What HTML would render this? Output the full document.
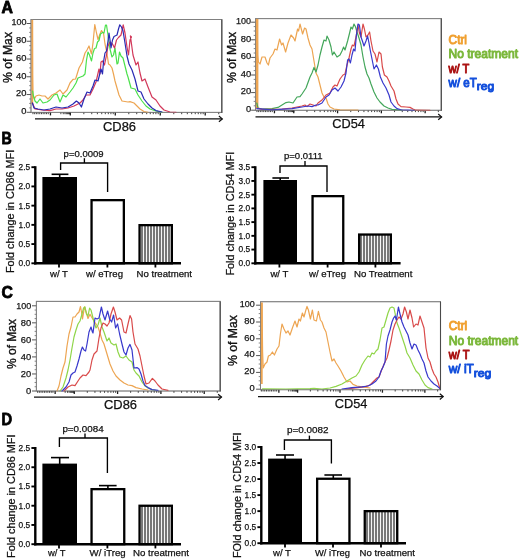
<!DOCTYPE html>
<html lang="en"><head><meta charset="utf-8"><title>Figure</title>
<style>html,body{margin:0;padding:0;background:#fff}body{width:520px;height:560px;overflow:hidden}svg{display:block;font-family:"Liberation Sans","DejaVu Sans",sans-serif}</style>
</head><body>
<svg width="520" height="560" viewBox="0 0 520 560">
<defs>
<pattern id="s1" width="3" height="8" patternUnits="userSpaceOnUse"><rect width="3" height="8" fill="#f6f6f6"/><rect x="0" width="2" height="8" fill="#848484"/><rect x="0.5" width="1" height="8" fill="#6c6c6c"/></pattern>
<pattern id="s2" width="3" height="8" patternUnits="userSpaceOnUse"><rect width="3" height="8" fill="#f6f6f6"/><rect x="0" width="2" height="8" fill="#848484"/><rect x="0.5" width="1" height="8" fill="#6c6c6c"/></pattern>
<pattern id="s3" width="3" height="8" patternUnits="userSpaceOnUse"><rect width="3" height="8" fill="#f6f6f6"/><rect x="0" width="2" height="8" fill="#848484"/><rect x="0.5" width="1" height="8" fill="#6c6c6c"/></pattern>
<pattern id="s4" width="3" height="8" patternUnits="userSpaceOnUse"><rect width="3" height="8" fill="#f6f6f6"/><rect x="0" width="2" height="8" fill="#848484"/><rect x="0.5" width="1" height="8" fill="#6c6c6c"/></pattern>
</defs>
<rect width="520" height="560" fill="#fff"/>
<text x="1.6" y="13.1" font-size="16.4" font-weight="bold" fill="#000" textLength="11.4" lengthAdjust="spacingAndGlyphs" stroke="#000" stroke-width="0.8" stroke-linejoin="round">A</text>
<text x="1.6" y="143.9" font-size="16.4" font-weight="bold" fill="#000" textLength="10.2" lengthAdjust="spacingAndGlyphs" stroke="#000" stroke-width="0.8" stroke-linejoin="round">B</text>
<text x="1.4" y="297.9" font-size="16.4" font-weight="bold" fill="#000" textLength="11.4" lengthAdjust="spacingAndGlyphs" stroke="#000" stroke-width="0.8" stroke-linejoin="round">C</text>
<text x="1.6" y="425.0" font-size="16.4" font-weight="bold" fill="#000" textLength="10.6" lengthAdjust="spacingAndGlyphs" stroke="#000" stroke-width="0.8" stroke-linejoin="round">D</text>
<rect x="31" y="19.5" width="190.8" height="92.9" fill="#fff" stroke="#808080" stroke-width="1"/>
<line x1="26.6" y1="23.50" x2="31" y2="23.50" stroke="#555" stroke-width="1"/>
<text x="26.4" y="25.4" font-size="9.2" text-anchor="end" fill="#1a1a1a" textLength="15" lengthAdjust="spacingAndGlyphs" stroke="#111" stroke-width="0.25">100</text>
<line x1="29.2" y1="27.94" x2="31" y2="27.94" stroke="#666" stroke-width="0.8"/>
<line x1="29.2" y1="32.38" x2="31" y2="32.38" stroke="#666" stroke-width="0.8"/>
<line x1="29.2" y1="36.82" x2="31" y2="36.82" stroke="#666" stroke-width="0.8"/>
<line x1="26.6" y1="41.26" x2="31" y2="41.26" stroke="#555" stroke-width="1"/>
<text x="26.4" y="43.16" font-size="9.2" text-anchor="end" fill="#1a1a1a" textLength="10.4" lengthAdjust="spacingAndGlyphs" stroke="#111" stroke-width="0.25">80</text>
<line x1="29.2" y1="45.70" x2="31" y2="45.70" stroke="#666" stroke-width="0.8"/>
<line x1="29.2" y1="50.14" x2="31" y2="50.14" stroke="#666" stroke-width="0.8"/>
<line x1="29.2" y1="54.58" x2="31" y2="54.58" stroke="#666" stroke-width="0.8"/>
<line x1="26.6" y1="59.02" x2="31" y2="59.02" stroke="#555" stroke-width="1"/>
<text x="26.4" y="60.92" font-size="9.2" text-anchor="end" fill="#1a1a1a" textLength="10.4" lengthAdjust="spacingAndGlyphs" stroke="#111" stroke-width="0.25">60</text>
<line x1="29.2" y1="63.46" x2="31" y2="63.46" stroke="#666" stroke-width="0.8"/>
<line x1="29.2" y1="67.90" x2="31" y2="67.90" stroke="#666" stroke-width="0.8"/>
<line x1="29.2" y1="72.34" x2="31" y2="72.34" stroke="#666" stroke-width="0.8"/>
<line x1="26.6" y1="76.78" x2="31" y2="76.78" stroke="#555" stroke-width="1"/>
<text x="26.4" y="78.68" font-size="9.2" text-anchor="end" fill="#1a1a1a" textLength="10.4" lengthAdjust="spacingAndGlyphs" stroke="#111" stroke-width="0.25">40</text>
<line x1="29.2" y1="81.22" x2="31" y2="81.22" stroke="#666" stroke-width="0.8"/>
<line x1="29.2" y1="85.66" x2="31" y2="85.66" stroke="#666" stroke-width="0.8"/>
<line x1="29.2" y1="90.10" x2="31" y2="90.10" stroke="#666" stroke-width="0.8"/>
<line x1="26.6" y1="94.54" x2="31" y2="94.54" stroke="#555" stroke-width="1"/>
<text x="26.4" y="96.44" font-size="9.2" text-anchor="end" fill="#1a1a1a" textLength="10.4" lengthAdjust="spacingAndGlyphs" stroke="#111" stroke-width="0.25">20</text>
<line x1="29.2" y1="98.98" x2="31" y2="98.98" stroke="#666" stroke-width="0.8"/>
<line x1="29.2" y1="103.42" x2="31" y2="103.42" stroke="#666" stroke-width="0.8"/>
<line x1="29.2" y1="107.86" x2="31" y2="107.86" stroke="#666" stroke-width="0.8"/>
<line x1="26.6" y1="112.30" x2="31" y2="112.30" stroke="#555" stroke-width="1"/>
<text x="26.4" y="114.2" font-size="9.2" text-anchor="end" fill="#1a1a1a" textLength="5.2" lengthAdjust="spacingAndGlyphs" stroke="#111" stroke-width="0.25">0</text>
<line x1="50.46" y1="112.4" x2="50.46" y2="115.40" stroke="#1c1c1c" stroke-width="1.3"/>
<line x1="60.87" y1="112.4" x2="60.87" y2="114.20" stroke="#1c1c1c" stroke-width="0.85"/>
<line x1="63.25" y1="112.4" x2="63.25" y2="114.20" stroke="#1c1c1c" stroke-width="0.85"/>
<line x1="64.94" y1="112.4" x2="64.94" y2="114.20" stroke="#1c1c1c" stroke-width="0.85"/>
<line x1="66.24" y1="112.4" x2="66.24" y2="114.20" stroke="#1c1c1c" stroke-width="0.85"/>
<line x1="67.31" y1="112.4" x2="67.31" y2="114.20" stroke="#1c1c1c" stroke-width="0.85"/>
<line x1="68.21" y1="112.4" x2="68.21" y2="114.20" stroke="#1c1c1c" stroke-width="0.85"/>
<line x1="69.00" y1="112.4" x2="69.00" y2="114.20" stroke="#1c1c1c" stroke-width="0.85"/>
<line x1="69.69" y1="112.4" x2="69.69" y2="114.20" stroke="#1c1c1c" stroke-width="0.85"/>
<line x1="70.30" y1="112.4" x2="70.30" y2="114.20" stroke="#1c1c1c" stroke-width="0.85"/>
<line x1="48.26" y1="112.4" x2="48.26" y2="114.20" stroke="#1c1c1c" stroke-width="0.85"/>
<line x1="46.56" y1="112.4" x2="46.56" y2="114.20" stroke="#1c1c1c" stroke-width="0.85"/>
<line x1="44.86" y1="112.4" x2="44.86" y2="114.20" stroke="#1c1c1c" stroke-width="0.85"/>
<line x1="43.16" y1="112.4" x2="43.16" y2="114.20" stroke="#1c1c1c" stroke-width="0.85"/>
<line x1="41.46" y1="112.4" x2="41.46" y2="114.20" stroke="#1c1c1c" stroke-width="0.85"/>
<line x1="39.76" y1="112.4" x2="39.76" y2="114.20" stroke="#1c1c1c" stroke-width="0.85"/>
<line x1="38.06" y1="112.4" x2="38.06" y2="114.20" stroke="#1c1c1c" stroke-width="0.85"/>
<line x1="36.36" y1="112.4" x2="36.36" y2="114.20" stroke="#1c1c1c" stroke-width="0.85"/>
<line x1="34.66" y1="112.4" x2="34.66" y2="114.20" stroke="#1c1c1c" stroke-width="0.85"/>
<line x1="32.96" y1="112.4" x2="32.96" y2="114.20" stroke="#1c1c1c" stroke-width="0.85"/>
<line x1="70.30" y1="112.4" x2="70.30" y2="115.40" stroke="#1c1c1c" stroke-width="1.3"/>
<line x1="83.84" y1="112.4" x2="83.84" y2="114.20" stroke="#1c1c1c" stroke-width="0.85"/>
<line x1="91.76" y1="112.4" x2="91.76" y2="114.20" stroke="#1c1c1c" stroke-width="0.85"/>
<line x1="97.38" y1="112.4" x2="97.38" y2="114.20" stroke="#1c1c1c" stroke-width="0.85"/>
<line x1="101.74" y1="112.4" x2="101.74" y2="114.20" stroke="#1c1c1c" stroke-width="0.85"/>
<line x1="105.30" y1="112.4" x2="105.30" y2="114.20" stroke="#1c1c1c" stroke-width="0.85"/>
<line x1="108.31" y1="112.4" x2="108.31" y2="114.20" stroke="#1c1c1c" stroke-width="0.85"/>
<line x1="110.92" y1="112.4" x2="110.92" y2="114.20" stroke="#1c1c1c" stroke-width="0.85"/>
<line x1="113.22" y1="112.4" x2="113.22" y2="114.20" stroke="#1c1c1c" stroke-width="0.85"/>
<line x1="115.28" y1="112.4" x2="115.28" y2="115.40" stroke="#1c1c1c" stroke-width="1.3"/>
<line x1="128.81" y1="112.4" x2="128.81" y2="114.20" stroke="#1c1c1c" stroke-width="0.85"/>
<line x1="136.73" y1="112.4" x2="136.73" y2="114.20" stroke="#1c1c1c" stroke-width="0.85"/>
<line x1="142.35" y1="112.4" x2="142.35" y2="114.20" stroke="#1c1c1c" stroke-width="0.85"/>
<line x1="146.71" y1="112.4" x2="146.71" y2="114.20" stroke="#1c1c1c" stroke-width="0.85"/>
<line x1="150.27" y1="112.4" x2="150.27" y2="114.20" stroke="#1c1c1c" stroke-width="0.85"/>
<line x1="153.28" y1="112.4" x2="153.28" y2="114.20" stroke="#1c1c1c" stroke-width="0.85"/>
<line x1="155.89" y1="112.4" x2="155.89" y2="114.20" stroke="#1c1c1c" stroke-width="0.85"/>
<line x1="158.19" y1="112.4" x2="158.19" y2="114.20" stroke="#1c1c1c" stroke-width="0.85"/>
<line x1="160.25" y1="112.4" x2="160.25" y2="115.40" stroke="#1c1c1c" stroke-width="1.3"/>
<line x1="173.79" y1="112.4" x2="173.79" y2="114.20" stroke="#1c1c1c" stroke-width="0.85"/>
<line x1="181.70" y1="112.4" x2="181.70" y2="114.20" stroke="#1c1c1c" stroke-width="0.85"/>
<line x1="187.32" y1="112.4" x2="187.32" y2="114.20" stroke="#1c1c1c" stroke-width="0.85"/>
<line x1="191.68" y1="112.4" x2="191.68" y2="114.20" stroke="#1c1c1c" stroke-width="0.85"/>
<line x1="195.24" y1="112.4" x2="195.24" y2="114.20" stroke="#1c1c1c" stroke-width="0.85"/>
<line x1="198.25" y1="112.4" x2="198.25" y2="114.20" stroke="#1c1c1c" stroke-width="0.85"/>
<line x1="200.86" y1="112.4" x2="200.86" y2="114.20" stroke="#1c1c1c" stroke-width="0.85"/>
<line x1="203.16" y1="112.4" x2="203.16" y2="114.20" stroke="#1c1c1c" stroke-width="0.85"/>
<line x1="205.22" y1="112.4" x2="205.22" y2="115.40" stroke="#1c1c1c" stroke-width="1.3"/>
<line x1="218.76" y1="112.4" x2="218.76" y2="114.20" stroke="#1c1c1c" stroke-width="0.85"/>
<line x1="32.25" y1="20" x2="32.25" y2="104" stroke="#eda552" stroke-width="1.9"/>
<polyline points="32.4,20 32.6,75 33,95 34.4,99 36,96 39,95 42,96 45,96 48,99 52,95 56,93 60,90 63,94 67,90 70,83 73,79.4 75.6,79 79,68 82.4,62 85,53 87,50 89,46 91.5,54 93,43 94.8,24.5 96.5,33 98,39.5 100,34 101.5,30.5 103.5,33 105,44 106.5,51 107.5,57 108.5,64 110,65 112,68 113.5,74 115,81 119,95 122,101 128,102 130,101.6 134,103 137,106 140,109 144,111.6 148,112.4" fill="none" stroke="#eda552" stroke-width="1.2" stroke-linejoin="round" stroke-linecap="round" opacity="1"/>
<polyline points="32.6,91 33.2,95 35,101 37,103 40,99 43,103 47,102 50,100 54,95 57,94 60,102 63,95 66,97 70,92 73,88 76,83 78,78 83,76 85,74 86.5,60 88,52 89.5,55 91.5,61 93,53 94.5,48.5 96,48 97.5,42 99,40.5 100.5,34 102.5,32.5 104,33 105.5,25 106.5,25 108,35 109,43 110,49 112,57 113.5,55 115,48 117,64 118,63 119.5,52 121,56 123,58 125,66 127,74 128,77 131,88 135,89 138,95 142,101 146,106 150,109 156,111 162,112.4" fill="none" stroke="#4be04b" stroke-width="1.2" stroke-linejoin="round" stroke-linecap="round" opacity="1"/>
<polyline points="32.4,103 35,109 42,110 50,110.6 56,109 62,109 68,108 74,106 80,103 83,100 86,95 90,95 93,89 96,82 99,69 100,74 101,62 102.5,61 104.5,65 106.5,55 108,46 110,42 112.5,44 114.5,48 116.5,40 118.5,37.5 121,35 123.2,24.8 125,33 127,47 128.5,55 130,40 131.5,37 130.4,36 133,55 136,65 138,62 140,73 142,81 145,79 148,87 152,97 156,100 160,106 164,110 170,112 176,112.4" fill="none" stroke="#d2385a" stroke-width="1.2" stroke-linejoin="round" stroke-linecap="round" opacity="1"/>
<polyline points="32.4,103 34,108 38,109 44,110 50,109 56,107 62,108 68,107 73,104 76.4,101 79,103 81.4,107 84,99 87,92 90,93 93,86 95,80 98,81 101,69 102.5,74 103.5,62 105,53 106.5,51 108,41 109,33 110,40 111,48 112.5,40 114,36.5 117,35 118.5,29 119.8,24.8 121.5,27 123,31 125,43 127,56 129,64 132,70 135,79 138,91 141,92 144,99 148,104 152,108 156,110.6 162,112" fill="none" stroke="#2a2ab4" stroke-width="1.2" stroke-linejoin="round" stroke-linecap="round" opacity="1"/>
<rect x="31" y="19.5" width="190.8" height="92.9" fill="none" stroke="#808080" stroke-width="1" opacity="0.6"/>
<line x1="221.8" y1="19.5" x2="221.8" y2="112.9" stroke="#4a4a4a" stroke-width="1.1"/>
<text x="12.0" y="57.5" font-size="12" text-anchor="middle" fill="#111" textLength="51" lengthAdjust="spacingAndGlyphs" transform="rotate(-90 12.0 57.5)" stroke="#111" stroke-width="0.35">% of Max</text>
<line x1="35" y1="118.9" x2="222.3" y2="118.9" stroke="#111" stroke-width="1.3"/>
<polyline points="218.9,116.0 222.3,118.9 218.9,121.8" fill="none" stroke="#111" stroke-width="1.2"/>
<text x="103" y="131.2" font-size="12.2" fill="#111" textLength="33" lengthAdjust="spacingAndGlyphs" stroke="#111" stroke-width="0.25">CD86</text>
<rect x="255.5" y="18.6" width="185.8" height="91.7" fill="#fff" stroke="#808080" stroke-width="1"/>
<line x1="251.1" y1="22.20" x2="255.5" y2="22.20" stroke="#555" stroke-width="1"/>
<text x="251.1" y="24.0" font-size="9.2" text-anchor="end" fill="#1a1a1a" textLength="15" lengthAdjust="spacingAndGlyphs" stroke="#111" stroke-width="0.25">100</text>
<line x1="253.7" y1="26.60" x2="255.5" y2="26.60" stroke="#666" stroke-width="0.8"/>
<line x1="253.7" y1="31.00" x2="255.5" y2="31.00" stroke="#666" stroke-width="0.8"/>
<line x1="253.7" y1="35.40" x2="255.5" y2="35.40" stroke="#666" stroke-width="0.8"/>
<line x1="251.1" y1="39.80" x2="255.5" y2="39.80" stroke="#555" stroke-width="1"/>
<text x="251.1" y="41.6" font-size="9.2" text-anchor="end" fill="#1a1a1a" textLength="10.4" lengthAdjust="spacingAndGlyphs" stroke="#111" stroke-width="0.25">80</text>
<line x1="253.7" y1="44.20" x2="255.5" y2="44.20" stroke="#666" stroke-width="0.8"/>
<line x1="253.7" y1="48.60" x2="255.5" y2="48.60" stroke="#666" stroke-width="0.8"/>
<line x1="253.7" y1="53.00" x2="255.5" y2="53.00" stroke="#666" stroke-width="0.8"/>
<line x1="251.1" y1="57.40" x2="255.5" y2="57.40" stroke="#555" stroke-width="1"/>
<text x="251.1" y="59.2" font-size="9.2" text-anchor="end" fill="#1a1a1a" textLength="10.4" lengthAdjust="spacingAndGlyphs" stroke="#111" stroke-width="0.25">60</text>
<line x1="253.7" y1="61.80" x2="255.5" y2="61.80" stroke="#666" stroke-width="0.8"/>
<line x1="253.7" y1="66.20" x2="255.5" y2="66.20" stroke="#666" stroke-width="0.8"/>
<line x1="253.7" y1="70.60" x2="255.5" y2="70.60" stroke="#666" stroke-width="0.8"/>
<line x1="251.1" y1="75.00" x2="255.5" y2="75.00" stroke="#555" stroke-width="1"/>
<text x="251.1" y="76.8" font-size="9.2" text-anchor="end" fill="#1a1a1a" textLength="10.4" lengthAdjust="spacingAndGlyphs" stroke="#111" stroke-width="0.25">40</text>
<line x1="253.7" y1="79.40" x2="255.5" y2="79.40" stroke="#666" stroke-width="0.8"/>
<line x1="253.7" y1="83.80" x2="255.5" y2="83.80" stroke="#666" stroke-width="0.8"/>
<line x1="253.7" y1="88.20" x2="255.5" y2="88.20" stroke="#666" stroke-width="0.8"/>
<line x1="251.1" y1="92.60" x2="255.5" y2="92.60" stroke="#555" stroke-width="1"/>
<text x="251.1" y="94.4" font-size="9.2" text-anchor="end" fill="#1a1a1a" textLength="10.4" lengthAdjust="spacingAndGlyphs" stroke="#111" stroke-width="0.25">20</text>
<line x1="253.7" y1="97.00" x2="255.5" y2="97.00" stroke="#666" stroke-width="0.8"/>
<line x1="253.7" y1="101.40" x2="255.5" y2="101.40" stroke="#666" stroke-width="0.8"/>
<line x1="253.7" y1="105.80" x2="255.5" y2="105.80" stroke="#666" stroke-width="0.8"/>
<line x1="251.1" y1="110.20" x2="255.5" y2="110.20" stroke="#555" stroke-width="1"/>
<text x="251.1" y="112.0" font-size="9.2" text-anchor="end" fill="#1a1a1a" textLength="5.2" lengthAdjust="spacingAndGlyphs" stroke="#111" stroke-width="0.25">0</text>
<line x1="274.45" y1="110.3" x2="274.45" y2="113.30" stroke="#1c1c1c" stroke-width="1.3"/>
<line x1="284.59" y1="110.3" x2="284.59" y2="112.10" stroke="#1c1c1c" stroke-width="0.85"/>
<line x1="286.90" y1="110.3" x2="286.90" y2="112.10" stroke="#1c1c1c" stroke-width="0.85"/>
<line x1="288.55" y1="110.3" x2="288.55" y2="112.10" stroke="#1c1c1c" stroke-width="0.85"/>
<line x1="289.82" y1="110.3" x2="289.82" y2="112.10" stroke="#1c1c1c" stroke-width="0.85"/>
<line x1="290.86" y1="110.3" x2="290.86" y2="112.10" stroke="#1c1c1c" stroke-width="0.85"/>
<line x1="291.74" y1="110.3" x2="291.74" y2="112.10" stroke="#1c1c1c" stroke-width="0.85"/>
<line x1="292.50" y1="110.3" x2="292.50" y2="112.10" stroke="#1c1c1c" stroke-width="0.85"/>
<line x1="293.17" y1="110.3" x2="293.17" y2="112.10" stroke="#1c1c1c" stroke-width="0.85"/>
<line x1="293.77" y1="110.3" x2="293.77" y2="112.10" stroke="#1c1c1c" stroke-width="0.85"/>
<line x1="272.25" y1="110.3" x2="272.25" y2="112.10" stroke="#1c1c1c" stroke-width="0.85"/>
<line x1="270.55" y1="110.3" x2="270.55" y2="112.10" stroke="#1c1c1c" stroke-width="0.85"/>
<line x1="268.85" y1="110.3" x2="268.85" y2="112.10" stroke="#1c1c1c" stroke-width="0.85"/>
<line x1="267.15" y1="110.3" x2="267.15" y2="112.10" stroke="#1c1c1c" stroke-width="0.85"/>
<line x1="265.45" y1="110.3" x2="265.45" y2="112.10" stroke="#1c1c1c" stroke-width="0.85"/>
<line x1="263.75" y1="110.3" x2="263.75" y2="112.10" stroke="#1c1c1c" stroke-width="0.85"/>
<line x1="262.05" y1="110.3" x2="262.05" y2="112.10" stroke="#1c1c1c" stroke-width="0.85"/>
<line x1="260.35" y1="110.3" x2="260.35" y2="112.10" stroke="#1c1c1c" stroke-width="0.85"/>
<line x1="258.65" y1="110.3" x2="258.65" y2="112.10" stroke="#1c1c1c" stroke-width="0.85"/>
<line x1="256.95" y1="110.3" x2="256.95" y2="112.10" stroke="#1c1c1c" stroke-width="0.85"/>
<line x1="293.77" y1="110.3" x2="293.77" y2="113.30" stroke="#1c1c1c" stroke-width="1.3"/>
<line x1="306.96" y1="110.3" x2="306.96" y2="112.10" stroke="#1c1c1c" stroke-width="0.85"/>
<line x1="314.67" y1="110.3" x2="314.67" y2="112.10" stroke="#1c1c1c" stroke-width="0.85"/>
<line x1="320.14" y1="110.3" x2="320.14" y2="112.10" stroke="#1c1c1c" stroke-width="0.85"/>
<line x1="324.38" y1="110.3" x2="324.38" y2="112.10" stroke="#1c1c1c" stroke-width="0.85"/>
<line x1="327.85" y1="110.3" x2="327.85" y2="112.10" stroke="#1c1c1c" stroke-width="0.85"/>
<line x1="330.78" y1="110.3" x2="330.78" y2="112.10" stroke="#1c1c1c" stroke-width="0.85"/>
<line x1="333.32" y1="110.3" x2="333.32" y2="112.10" stroke="#1c1c1c" stroke-width="0.85"/>
<line x1="335.56" y1="110.3" x2="335.56" y2="112.10" stroke="#1c1c1c" stroke-width="0.85"/>
<line x1="337.57" y1="110.3" x2="337.57" y2="113.30" stroke="#1c1c1c" stroke-width="1.3"/>
<line x1="350.75" y1="110.3" x2="350.75" y2="112.10" stroke="#1c1c1c" stroke-width="0.85"/>
<line x1="358.46" y1="110.3" x2="358.46" y2="112.10" stroke="#1c1c1c" stroke-width="0.85"/>
<line x1="363.93" y1="110.3" x2="363.93" y2="112.10" stroke="#1c1c1c" stroke-width="0.85"/>
<line x1="368.18" y1="110.3" x2="368.18" y2="112.10" stroke="#1c1c1c" stroke-width="0.85"/>
<line x1="371.65" y1="110.3" x2="371.65" y2="112.10" stroke="#1c1c1c" stroke-width="0.85"/>
<line x1="374.58" y1="110.3" x2="374.58" y2="112.10" stroke="#1c1c1c" stroke-width="0.85"/>
<line x1="377.12" y1="110.3" x2="377.12" y2="112.10" stroke="#1c1c1c" stroke-width="0.85"/>
<line x1="379.36" y1="110.3" x2="379.36" y2="112.10" stroke="#1c1c1c" stroke-width="0.85"/>
<line x1="381.36" y1="110.3" x2="381.36" y2="113.30" stroke="#1c1c1c" stroke-width="1.3"/>
<line x1="394.54" y1="110.3" x2="394.54" y2="112.10" stroke="#1c1c1c" stroke-width="0.85"/>
<line x1="402.26" y1="110.3" x2="402.26" y2="112.10" stroke="#1c1c1c" stroke-width="0.85"/>
<line x1="407.73" y1="110.3" x2="407.73" y2="112.10" stroke="#1c1c1c" stroke-width="0.85"/>
<line x1="411.97" y1="110.3" x2="411.97" y2="112.10" stroke="#1c1c1c" stroke-width="0.85"/>
<line x1="415.44" y1="110.3" x2="415.44" y2="112.10" stroke="#1c1c1c" stroke-width="0.85"/>
<line x1="418.37" y1="110.3" x2="418.37" y2="112.10" stroke="#1c1c1c" stroke-width="0.85"/>
<line x1="420.91" y1="110.3" x2="420.91" y2="112.10" stroke="#1c1c1c" stroke-width="0.85"/>
<line x1="423.15" y1="110.3" x2="423.15" y2="112.10" stroke="#1c1c1c" stroke-width="0.85"/>
<line x1="425.15" y1="110.3" x2="425.15" y2="113.30" stroke="#1c1c1c" stroke-width="1.3"/>
<line x1="438.34" y1="110.3" x2="438.34" y2="112.10" stroke="#1c1c1c" stroke-width="0.85"/>
<line x1="257.1" y1="19" x2="257.1" y2="108" stroke="#eda552" stroke-width="2.6"/>
<polyline points="257.2,19 257.6,55 258.4,62 260,64 262,57 265,57 267,63 268.4,65 270,58 273,54 275,49 277,50 279.6,39 281.6,45 283,43 285.6,52 288,43 291,35 293.6,38 295,41 297.6,29 298.6,31 300,24 302.6,34 304.6,28 306,29 308,38 310,45 312,49 314,61 316,73 318,77 320,85 322,93 324,97 326,98 328,104 330,107 334,109 340,109.8 358,110.2" fill="none" stroke="#eda552" stroke-width="1.2" stroke-linejoin="round" stroke-linecap="round" opacity="1"/>
<polyline points="256.8,103 258,108 262,109 272,108.6 278,107.4 282,105 286,102.6 289,102 293,103 297,97 300,96.6 302,94 306,88 310,77 312,73 314,67.4 316,72 318,65 320,55 322,47 324,40 326,41 327,36 329,40 331,47 332.4,55 334,52 337,57 340,55 342,51 343.6,47 345,50 347.6,41 349.6,33 351,27 352.4,29 354,24 355.6,27 357,32 359,38 361,45 363,57 365,67 367,74 369,78 371,84 374,92 377,98 380,102 384,106 388,108 392,109.4 402,110.2" fill="none" stroke="#43a65a" stroke-width="1.2" stroke-linejoin="round" stroke-linecap="round" opacity="1"/>
<polyline points="256.8,108 262,109.4 272,109.4 282,109 292,108 302,106 305,105 307,106.6 310,104 313,105 316,106 318,103 322,100 326,95 330,93 333,87 335,85 337,86 340,79 343,75 345,74 347,65 349,58 351,49 352.4,45 354,46 356,37 358,25 359.4,33 361,37 363,24 364.4,29 366,37 368,35 369.6,32 371,41 373,51 375,54 377,62 379,52 381,54 382.4,67 384.4,75 387,77 389,81 391,86 394,91 396,99 398,104 401,106.6 406,107 410,107.4 413,109 416,110.2 430,110.4" fill="none" stroke="#d94a4a" stroke-width="1.2" stroke-linejoin="round" stroke-linecap="round" opacity="1"/>
<polyline points="256.8,108.6 272,109.8 292,108.6 302,107 308,106 312,106.6 316,105 318,105 322,103 326,97 329,95 332,90 335,88 338,91 341,87 344,81 346,73 347.6,60 349,59 350.4,63 352,55 353.6,49 355,51 356.4,35 358,24 359.4,25 361,37 362.4,41 364,46 366,41 367.6,36 369,43 370.4,51 372,59 374,69 376.4,65 378.4,69 380.4,77 383,83 386,88 389,95 391,102 394,106 397,108.6 401,109.8 414,110.4" fill="none" stroke="#3838cc" stroke-width="1.2" stroke-linejoin="round" stroke-linecap="round" opacity="1"/>
<rect x="255.5" y="18.6" width="185.8" height="91.7" fill="none" stroke="#808080" stroke-width="1" opacity="0.6"/>
<line x1="441.3" y1="18.6" x2="441.3" y2="110.8" stroke="#4a4a4a" stroke-width="1.1"/>
<text x="236" y="57.5" font-size="12" text-anchor="middle" fill="#111" textLength="51" lengthAdjust="spacingAndGlyphs" transform="rotate(-90 236 57.5)" stroke="#111" stroke-width="0.35">% of Max</text>
<line x1="255.5" y1="116.9" x2="441.6" y2="116.9" stroke="#111" stroke-width="1.3"/>
<polyline points="438.2,114.0 441.6,116.9 438.2,119.8" fill="none" stroke="#111" stroke-width="1.2"/>
<text x="332.3" y="127.9" font-size="12.2" fill="#111" textLength="32.6" lengthAdjust="spacingAndGlyphs" stroke="#111" stroke-width="0.25">CD54</text>
<text x="448.6" y="43.7" font-size="12.8" fill="#f0a030" stroke="#f0a030" stroke-width="1.0" stroke-linejoin="round" textLength="18.4" lengthAdjust="spacingAndGlyphs">Ctrl</text>
<text x="448.6" y="58.4" font-size="12.8" fill="#7cb83c" stroke="#7cb83c" stroke-width="1.0" stroke-linejoin="round" textLength="69.4" lengthAdjust="spacingAndGlyphs">No treatment</text>
<text x="448.6" y="73" font-size="12.8" fill="#ab1414" stroke="#ab1414" stroke-width="1.0" stroke-linejoin="round" textLength="20.8" lengthAdjust="spacingAndGlyphs">w/ T</text>
<text x="448.6" y="87.3" font-size="12.8" fill="#1450dc" stroke="#1450dc" stroke-width="1.0" stroke-linejoin="round"><tspan textLength="28.2" lengthAdjust="spacingAndGlyphs">w/ eT</tspan><tspan dy="3.1" font-size="11.4" textLength="17.4" lengthAdjust="spacingAndGlyphs">reg</tspan></text>
<line x1="59.7" y1="174.3" x2="59.7" y2="178" stroke="#000" stroke-width="1.6"/>
<line x1="51.6" y1="174.3" x2="68.4" y2="174.3" stroke="#000" stroke-width="1.6"/>
<rect x="42.4" y="177" width="34.6" height="86.30000000000001" fill="#000"/>
<rect x="91.55" y="200.15" width="32.3" height="63.15" fill="#fff" stroke="#000" stroke-width="2.3"/>
<rect x="139.55" y="225.15" width="32.3" height="38.15" fill="url(#s1)" stroke="#000" stroke-width="2.3"/>
<line x1="35.3" y1="166.2" x2="35.3" y2="264.5" stroke="#000" stroke-width="2.4"/>
<line x1="34.1" y1="263.3" x2="181" y2="263.3" stroke="#000" stroke-width="2.4"/>
<line x1="31.4" y1="167.20" x2="35.3" y2="167.20" stroke="#000" stroke-width="1.9"/>
<text x="30.1" y="170.1" font-size="9.2" text-anchor="end" fill="#111" textLength="11.6" lengthAdjust="spacingAndGlyphs" stroke="#111" stroke-width="0.25">2.5</text>
<line x1="31.4" y1="186.42" x2="35.3" y2="186.42" stroke="#000" stroke-width="1.9"/>
<text x="30.1" y="189.32" font-size="9.2" text-anchor="end" fill="#111" textLength="11.6" lengthAdjust="spacingAndGlyphs" stroke="#111" stroke-width="0.25">2.0</text>
<line x1="31.4" y1="205.64" x2="35.3" y2="205.64" stroke="#000" stroke-width="1.9"/>
<text x="30.1" y="208.54" font-size="9.2" text-anchor="end" fill="#111" textLength="11.6" lengthAdjust="spacingAndGlyphs" stroke="#111" stroke-width="0.25">1.5</text>
<line x1="31.4" y1="224.86" x2="35.3" y2="224.86" stroke="#000" stroke-width="1.9"/>
<text x="30.1" y="227.76" font-size="9.2" text-anchor="end" fill="#111" textLength="11.6" lengthAdjust="spacingAndGlyphs" stroke="#111" stroke-width="0.25">1.0</text>
<line x1="31.4" y1="244.08" x2="35.3" y2="244.08" stroke="#000" stroke-width="1.9"/>
<text x="30.1" y="246.98" font-size="9.2" text-anchor="end" fill="#111" textLength="11.6" lengthAdjust="spacingAndGlyphs" stroke="#111" stroke-width="0.25">0.5</text>
<line x1="31.4" y1="263.30" x2="35.3" y2="263.30" stroke="#000" stroke-width="1.9"/>
<text x="30.1" y="266.2" font-size="9.2" text-anchor="end" fill="#111" textLength="11.6" lengthAdjust="spacingAndGlyphs" stroke="#111" stroke-width="0.25">0.0</text>
<line x1="59" y1="263.3" x2="59" y2="267.5" stroke="#000" stroke-width="1.8"/>
<text x="50" y="277.4" font-size="9.6" fill="#111" textLength="18" lengthAdjust="spacingAndGlyphs" stroke="#111" stroke-width="0.25">w/ T</text>
<line x1="107.4" y1="263.3" x2="107.4" y2="267.5" stroke="#000" stroke-width="1.8"/>
<text x="86" y="277.4" font-size="9.6" fill="#111" textLength="37" lengthAdjust="spacingAndGlyphs" stroke="#111" stroke-width="0.25">w/ eTreg</text>
<line x1="155.4" y1="263.3" x2="155.4" y2="267.5" stroke="#000" stroke-width="1.8"/>
<text x="136.6" y="277.4" font-size="9.6" fill="#111" textLength="55.4" lengthAdjust="spacingAndGlyphs" stroke="#111" stroke-width="0.25">No treatment</text>
<polyline points="60.6,170 60.6,163 107.6,163 107.6,192" fill="none" stroke="#000" stroke-width="1.35"/>
<line x1="84.4" y1="163" x2="84.4" y2="158.2" stroke="#000" stroke-width="1.35"/>
<text x="63.6" y="156.7" font-size="9.8" fill="#111" textLength="40.0" lengthAdjust="spacingAndGlyphs" stroke="#111" stroke-width="0.25">p=0.0009</text>
<text x="13.9" y="211.4" font-size="10.3" text-anchor="middle" fill="#111" textLength="123.2" lengthAdjust="spacingAndGlyphs" transform="rotate(-90 13.9 211.4)" stroke="#111" stroke-width="0.25">Fold change in CD86 MFI</text>
<line x1="280.2" y1="178" x2="280.2" y2="181" stroke="#000" stroke-width="1.6"/>
<line x1="272.4" y1="178" x2="289" y2="178" stroke="#000" stroke-width="1.6"/>
<rect x="263.4" y="180" width="33.60000000000002" height="83.30000000000001" fill="#000"/>
<rect x="312.55" y="196.15" width="30.7" height="67.15" fill="#fff" stroke="#000" stroke-width="2.3"/>
<rect x="359.15" y="234.55" width="31.7" height="28.75" fill="url(#s2)" stroke="#000" stroke-width="2.3"/>
<line x1="255.3" y1="166.2" x2="255.3" y2="264.5" stroke="#000" stroke-width="2.4"/>
<line x1="254.1" y1="263.3" x2="400.6" y2="263.3" stroke="#000" stroke-width="2.4"/>
<line x1="251.4" y1="167.20" x2="255.3" y2="167.20" stroke="#000" stroke-width="1.9"/>
<text x="250.1" y="170.1" font-size="9.2" text-anchor="end" fill="#111" textLength="11.6" lengthAdjust="spacingAndGlyphs" stroke="#111" stroke-width="0.25">3.5</text>
<line x1="251.4" y1="180.93" x2="255.3" y2="180.93" stroke="#000" stroke-width="1.9"/>
<text x="250.1" y="183.83" font-size="9.2" text-anchor="end" fill="#111" textLength="11.6" lengthAdjust="spacingAndGlyphs" stroke="#111" stroke-width="0.25">3.0</text>
<line x1="251.4" y1="194.66" x2="255.3" y2="194.66" stroke="#000" stroke-width="1.9"/>
<text x="250.1" y="197.56" font-size="9.2" text-anchor="end" fill="#111" textLength="11.6" lengthAdjust="spacingAndGlyphs" stroke="#111" stroke-width="0.25">2.5</text>
<line x1="251.4" y1="208.39" x2="255.3" y2="208.39" stroke="#000" stroke-width="1.9"/>
<text x="250.1" y="211.29" font-size="9.2" text-anchor="end" fill="#111" textLength="11.6" lengthAdjust="spacingAndGlyphs" stroke="#111" stroke-width="0.25">2.0</text>
<line x1="251.4" y1="222.11" x2="255.3" y2="222.11" stroke="#000" stroke-width="1.9"/>
<text x="250.1" y="225.01" font-size="9.2" text-anchor="end" fill="#111" textLength="11.6" lengthAdjust="spacingAndGlyphs" stroke="#111" stroke-width="0.25">1.5</text>
<line x1="251.4" y1="235.84" x2="255.3" y2="235.84" stroke="#000" stroke-width="1.9"/>
<text x="250.1" y="238.74" font-size="9.2" text-anchor="end" fill="#111" textLength="11.6" lengthAdjust="spacingAndGlyphs" stroke="#111" stroke-width="0.25">1.0</text>
<line x1="251.4" y1="249.57" x2="255.3" y2="249.57" stroke="#000" stroke-width="1.9"/>
<text x="250.1" y="252.47" font-size="9.2" text-anchor="end" fill="#111" textLength="11.6" lengthAdjust="spacingAndGlyphs" stroke="#111" stroke-width="0.25">0.5</text>
<line x1="251.4" y1="263.30" x2="255.3" y2="263.30" stroke="#000" stroke-width="1.9"/>
<text x="250.1" y="266.2" font-size="9.2" text-anchor="end" fill="#111" textLength="11.6" lengthAdjust="spacingAndGlyphs" stroke="#111" stroke-width="0.25">0.0</text>
<line x1="279.4" y1="263.3" x2="279.4" y2="267.5" stroke="#000" stroke-width="1.8"/>
<text x="270.4" y="277.4" font-size="9.6" fill="#111" textLength="18.0" lengthAdjust="spacingAndGlyphs" stroke="#111" stroke-width="0.25">w/ T</text>
<line x1="327.6" y1="263.3" x2="327.6" y2="267.5" stroke="#000" stroke-width="1.8"/>
<text x="309" y="277.4" font-size="9.6" fill="#111" textLength="37" lengthAdjust="spacingAndGlyphs" stroke="#111" stroke-width="0.25">w/ eTreg</text>
<line x1="375.4" y1="263.3" x2="375.4" y2="267.5" stroke="#000" stroke-width="1.8"/>
<text x="354" y="277.4" font-size="9.6" fill="#111" textLength="58.4" lengthAdjust="spacingAndGlyphs" stroke="#111" stroke-width="0.25">No Treatment</text>
<polyline points="280,173 280,166 327,166 327,192" fill="none" stroke="#000" stroke-width="1.35"/>
<line x1="305" y1="166" x2="305" y2="161" stroke="#000" stroke-width="1.35"/>
<text x="284" y="159.4" font-size="9.8" fill="#111" textLength="38.6" lengthAdjust="spacingAndGlyphs" stroke="#111" stroke-width="0.25">p=0.0111</text>
<text x="234" y="213.70000000000002" font-size="10.3" text-anchor="middle" fill="#111" textLength="123.8" lengthAdjust="spacingAndGlyphs" transform="rotate(-90 234 213.70000000000002)" stroke="#111" stroke-width="0.25">Fold change in CD54 MFI</text>
<rect x="36.4" y="301.4" width="183.8" height="89.6" fill="#fff" stroke="#808080" stroke-width="1"/>
<line x1="32.0" y1="305.80" x2="36.4" y2="305.80" stroke="#555" stroke-width="1"/>
<text x="31.2" y="308.5" font-size="9.2" text-anchor="end" fill="#1a1a1a" textLength="15" lengthAdjust="spacingAndGlyphs" stroke="#111" stroke-width="0.25">100</text>
<line x1="34.6" y1="310.06" x2="36.4" y2="310.06" stroke="#666" stroke-width="0.8"/>
<line x1="34.6" y1="314.32" x2="36.4" y2="314.32" stroke="#666" stroke-width="0.8"/>
<line x1="34.6" y1="318.58" x2="36.4" y2="318.58" stroke="#666" stroke-width="0.8"/>
<line x1="32.0" y1="322.84" x2="36.4" y2="322.84" stroke="#555" stroke-width="1"/>
<text x="31.2" y="325.54" font-size="9.2" text-anchor="end" fill="#1a1a1a" textLength="10.4" lengthAdjust="spacingAndGlyphs" stroke="#111" stroke-width="0.25">80</text>
<line x1="34.6" y1="327.10" x2="36.4" y2="327.10" stroke="#666" stroke-width="0.8"/>
<line x1="34.6" y1="331.36" x2="36.4" y2="331.36" stroke="#666" stroke-width="0.8"/>
<line x1="34.6" y1="335.62" x2="36.4" y2="335.62" stroke="#666" stroke-width="0.8"/>
<line x1="32.0" y1="339.88" x2="36.4" y2="339.88" stroke="#555" stroke-width="1"/>
<text x="31.2" y="342.58" font-size="9.2" text-anchor="end" fill="#1a1a1a" textLength="10.4" lengthAdjust="spacingAndGlyphs" stroke="#111" stroke-width="0.25">60</text>
<line x1="34.6" y1="344.14" x2="36.4" y2="344.14" stroke="#666" stroke-width="0.8"/>
<line x1="34.6" y1="348.40" x2="36.4" y2="348.40" stroke="#666" stroke-width="0.8"/>
<line x1="34.6" y1="352.66" x2="36.4" y2="352.66" stroke="#666" stroke-width="0.8"/>
<line x1="32.0" y1="356.92" x2="36.4" y2="356.92" stroke="#555" stroke-width="1"/>
<text x="31.2" y="359.62" font-size="9.2" text-anchor="end" fill="#1a1a1a" textLength="10.4" lengthAdjust="spacingAndGlyphs" stroke="#111" stroke-width="0.25">40</text>
<line x1="34.6" y1="361.18" x2="36.4" y2="361.18" stroke="#666" stroke-width="0.8"/>
<line x1="34.6" y1="365.44" x2="36.4" y2="365.44" stroke="#666" stroke-width="0.8"/>
<line x1="34.6" y1="369.70" x2="36.4" y2="369.70" stroke="#666" stroke-width="0.8"/>
<line x1="32.0" y1="373.96" x2="36.4" y2="373.96" stroke="#555" stroke-width="1"/>
<text x="31.2" y="376.66" font-size="9.2" text-anchor="end" fill="#1a1a1a" textLength="10.4" lengthAdjust="spacingAndGlyphs" stroke="#111" stroke-width="0.25">20</text>
<line x1="34.6" y1="378.22" x2="36.4" y2="378.22" stroke="#666" stroke-width="0.8"/>
<line x1="34.6" y1="382.48" x2="36.4" y2="382.48" stroke="#666" stroke-width="0.8"/>
<line x1="34.6" y1="386.74" x2="36.4" y2="386.74" stroke="#666" stroke-width="0.8"/>
<line x1="32.0" y1="391.00" x2="36.4" y2="391.00" stroke="#555" stroke-width="1"/>
<text x="31.2" y="393.7" font-size="9.2" text-anchor="end" fill="#1a1a1a" textLength="5.2" lengthAdjust="spacingAndGlyphs" stroke="#111" stroke-width="0.25">0</text>
<line x1="55.15" y1="391" x2="55.15" y2="394.00" stroke="#1c1c1c" stroke-width="1.3"/>
<line x1="65.18" y1="391" x2="65.18" y2="392.80" stroke="#1c1c1c" stroke-width="0.85"/>
<line x1="67.47" y1="391" x2="67.47" y2="392.80" stroke="#1c1c1c" stroke-width="0.85"/>
<line x1="69.09" y1="391" x2="69.09" y2="392.80" stroke="#1c1c1c" stroke-width="0.85"/>
<line x1="70.35" y1="391" x2="70.35" y2="392.80" stroke="#1c1c1c" stroke-width="0.85"/>
<line x1="71.38" y1="391" x2="71.38" y2="392.80" stroke="#1c1c1c" stroke-width="0.85"/>
<line x1="72.25" y1="391" x2="72.25" y2="392.80" stroke="#1c1c1c" stroke-width="0.85"/>
<line x1="73.00" y1="391" x2="73.00" y2="392.80" stroke="#1c1c1c" stroke-width="0.85"/>
<line x1="73.67" y1="391" x2="73.67" y2="392.80" stroke="#1c1c1c" stroke-width="0.85"/>
<line x1="74.26" y1="391" x2="74.26" y2="392.80" stroke="#1c1c1c" stroke-width="0.85"/>
<line x1="52.95" y1="391" x2="52.95" y2="392.80" stroke="#1c1c1c" stroke-width="0.85"/>
<line x1="51.25" y1="391" x2="51.25" y2="392.80" stroke="#1c1c1c" stroke-width="0.85"/>
<line x1="49.55" y1="391" x2="49.55" y2="392.80" stroke="#1c1c1c" stroke-width="0.85"/>
<line x1="47.85" y1="391" x2="47.85" y2="392.80" stroke="#1c1c1c" stroke-width="0.85"/>
<line x1="46.15" y1="391" x2="46.15" y2="392.80" stroke="#1c1c1c" stroke-width="0.85"/>
<line x1="44.45" y1="391" x2="44.45" y2="392.80" stroke="#1c1c1c" stroke-width="0.85"/>
<line x1="42.75" y1="391" x2="42.75" y2="392.80" stroke="#1c1c1c" stroke-width="0.85"/>
<line x1="41.05" y1="391" x2="41.05" y2="392.80" stroke="#1c1c1c" stroke-width="0.85"/>
<line x1="39.35" y1="391" x2="39.35" y2="392.80" stroke="#1c1c1c" stroke-width="0.85"/>
<line x1="37.65" y1="391" x2="37.65" y2="392.80" stroke="#1c1c1c" stroke-width="0.85"/>
<line x1="74.26" y1="391" x2="74.26" y2="394.00" stroke="#1c1c1c" stroke-width="1.3"/>
<line x1="87.30" y1="391" x2="87.30" y2="392.80" stroke="#1c1c1c" stroke-width="0.85"/>
<line x1="94.93" y1="391" x2="94.93" y2="392.80" stroke="#1c1c1c" stroke-width="0.85"/>
<line x1="100.35" y1="391" x2="100.35" y2="392.80" stroke="#1c1c1c" stroke-width="0.85"/>
<line x1="104.54" y1="391" x2="104.54" y2="392.80" stroke="#1c1c1c" stroke-width="0.85"/>
<line x1="107.97" y1="391" x2="107.97" y2="392.80" stroke="#1c1c1c" stroke-width="0.85"/>
<line x1="110.87" y1="391" x2="110.87" y2="392.80" stroke="#1c1c1c" stroke-width="0.85"/>
<line x1="113.39" y1="391" x2="113.39" y2="392.80" stroke="#1c1c1c" stroke-width="0.85"/>
<line x1="115.60" y1="391" x2="115.60" y2="392.80" stroke="#1c1c1c" stroke-width="0.85"/>
<line x1="117.58" y1="391" x2="117.58" y2="394.00" stroke="#1c1c1c" stroke-width="1.3"/>
<line x1="130.63" y1="391" x2="130.63" y2="392.80" stroke="#1c1c1c" stroke-width="0.85"/>
<line x1="138.25" y1="391" x2="138.25" y2="392.80" stroke="#1c1c1c" stroke-width="0.85"/>
<line x1="143.67" y1="391" x2="143.67" y2="392.80" stroke="#1c1c1c" stroke-width="0.85"/>
<line x1="147.87" y1="391" x2="147.87" y2="392.80" stroke="#1c1c1c" stroke-width="0.85"/>
<line x1="151.30" y1="391" x2="151.30" y2="392.80" stroke="#1c1c1c" stroke-width="0.85"/>
<line x1="154.20" y1="391" x2="154.20" y2="392.80" stroke="#1c1c1c" stroke-width="0.85"/>
<line x1="156.71" y1="391" x2="156.71" y2="392.80" stroke="#1c1c1c" stroke-width="0.85"/>
<line x1="158.92" y1="391" x2="158.92" y2="392.80" stroke="#1c1c1c" stroke-width="0.85"/>
<line x1="160.91" y1="391" x2="160.91" y2="394.00" stroke="#1c1c1c" stroke-width="1.3"/>
<line x1="173.95" y1="391" x2="173.95" y2="392.80" stroke="#1c1c1c" stroke-width="0.85"/>
<line x1="181.58" y1="391" x2="181.58" y2="392.80" stroke="#1c1c1c" stroke-width="0.85"/>
<line x1="186.99" y1="391" x2="186.99" y2="392.80" stroke="#1c1c1c" stroke-width="0.85"/>
<line x1="191.19" y1="391" x2="191.19" y2="392.80" stroke="#1c1c1c" stroke-width="0.85"/>
<line x1="194.62" y1="391" x2="194.62" y2="392.80" stroke="#1c1c1c" stroke-width="0.85"/>
<line x1="197.52" y1="391" x2="197.52" y2="392.80" stroke="#1c1c1c" stroke-width="0.85"/>
<line x1="200.03" y1="391" x2="200.03" y2="392.80" stroke="#1c1c1c" stroke-width="0.85"/>
<line x1="202.25" y1="391" x2="202.25" y2="392.80" stroke="#1c1c1c" stroke-width="0.85"/>
<line x1="204.23" y1="391" x2="204.23" y2="394.00" stroke="#1c1c1c" stroke-width="1.3"/>
<line x1="217.27" y1="391" x2="217.27" y2="392.80" stroke="#1c1c1c" stroke-width="0.85"/>
<polyline points="57,391 59,386 61,376 63,368 65,362 67,346 69,334 71,327 73,317 75,317 77,314 79,312 80.5,306.5 81.5,312 82.5,318.8 83.5,313 84.5,306.8 85.5,310 86.5,313 88,318.5 90,314.2 91.5,317 94,321 96,324 98,327 100,333 102,340 104,344 107,354 110,364 113,371 116,376 120,380 124,383 128,385 132,385.6 136,387.6 142,389 148,390" fill="none" stroke="#eda552" stroke-width="1.2" stroke-linejoin="round" stroke-linecap="round" opacity="1"/>
<polyline points="60,391 63,387 66,378 68,370 70,360 72,348 74,337 76,330 78,324 80,321 82,314 83.6,308 85,307 86.4,314 88,316 89.6,308 91,310 92,314 94,322 96,328 98,325 100,318 102,327 104,332 107,341 109,338 111,343 114,345 116,344 118,352 120,357 123,358 126,356 129,360 132,362 134,370 136,373 139,376 142,382 145,386 148,388 152,389.6 156,390.4" fill="none" stroke="#8fd548" stroke-width="1.2" stroke-linejoin="round" stroke-linecap="round" opacity="1"/>
<polyline points="64,391 68,387 72,385 75,385.6 78,381 80,378 83,375 86,375.6 89,372 90,370 92,360 94,354 97,351 99,338 101,328 103,323 105,324 107,326 109,323 111,314 113.4,307 115,312 117,320 119.6,318 121.6,320 124,332 126,333 128,324 130,315.6 131.6,319 133,332 135,344 138,349 140,356 142,366 144,376 146,384 149,383 152.4,378.4 155,381 158,385 162,389 168,390.4" fill="none" stroke="#d94a4a" stroke-width="1.2" stroke-linejoin="round" stroke-linecap="round" opacity="1"/>
<polyline points="62,391 66,387 69,382 71,375 73,373 75,372 77,366 79,359 81,351 82.4,347 84,350 85.6,351 87,344 89,332 91,327 92.4,332 93,333 95,318 97,319 99,318 101.4,307 103,314 105,320 107.6,311 109.6,319 111.6,322 113.6,315 115.6,328 117.6,324 119.6,334 122,344 124,352 126,355 128,348 130,344.4 132,350 134,368 137,367.6 139,369 141,374 143,381 145,385.6 148,387.6 152,389.6 158,390.4" fill="none" stroke="#3838cc" stroke-width="1.2" stroke-linejoin="round" stroke-linecap="round" opacity="1"/>
<rect x="36.4" y="301.4" width="183.8" height="89.6" fill="none" stroke="#808080" stroke-width="1" opacity="0.6"/>
<line x1="220.2" y1="301.4" x2="220.2" y2="391.5" stroke="#4a4a4a" stroke-width="1.1"/>
<text x="15.8" y="344.0" font-size="12" text-anchor="middle" fill="#111" textLength="50" lengthAdjust="spacingAndGlyphs" transform="rotate(-90 15.8 344.0)" stroke="#111" stroke-width="0.35">% of Max</text>
<line x1="34" y1="397.1" x2="221.5" y2="397.1" stroke="#111" stroke-width="1.3"/>
<polyline points="218.1,394.2 221.5,397.1 218.1,400.0" fill="none" stroke="#111" stroke-width="1.2"/>
<text x="104" y="408.8" font-size="12.2" fill="#111" textLength="33" lengthAdjust="spacingAndGlyphs" stroke="#111" stroke-width="0.25">CD86</text>
<rect x="260.5" y="301.7" width="180.0" height="88.0" fill="#fff" stroke="#808080" stroke-width="1"/>
<line x1="256.1" y1="305.20" x2="260.5" y2="305.20" stroke="#555" stroke-width="1"/>
<text x="254.7" y="307.0" font-size="9.2" text-anchor="end" fill="#1a1a1a" textLength="15" lengthAdjust="spacingAndGlyphs" stroke="#111" stroke-width="0.25">100</text>
<line x1="258.7" y1="309.40" x2="260.5" y2="309.40" stroke="#666" stroke-width="0.8"/>
<line x1="258.7" y1="313.60" x2="260.5" y2="313.60" stroke="#666" stroke-width="0.8"/>
<line x1="258.7" y1="317.80" x2="260.5" y2="317.80" stroke="#666" stroke-width="0.8"/>
<line x1="256.1" y1="322.00" x2="260.5" y2="322.00" stroke="#555" stroke-width="1"/>
<text x="254.7" y="323.8" font-size="9.2" text-anchor="end" fill="#1a1a1a" textLength="10.4" lengthAdjust="spacingAndGlyphs" stroke="#111" stroke-width="0.25">80</text>
<line x1="258.7" y1="326.20" x2="260.5" y2="326.20" stroke="#666" stroke-width="0.8"/>
<line x1="258.7" y1="330.40" x2="260.5" y2="330.40" stroke="#666" stroke-width="0.8"/>
<line x1="258.7" y1="334.60" x2="260.5" y2="334.60" stroke="#666" stroke-width="0.8"/>
<line x1="256.1" y1="338.80" x2="260.5" y2="338.80" stroke="#555" stroke-width="1"/>
<text x="254.7" y="340.6" font-size="9.2" text-anchor="end" fill="#1a1a1a" textLength="10.4" lengthAdjust="spacingAndGlyphs" stroke="#111" stroke-width="0.25">60</text>
<line x1="258.7" y1="343.00" x2="260.5" y2="343.00" stroke="#666" stroke-width="0.8"/>
<line x1="258.7" y1="347.20" x2="260.5" y2="347.20" stroke="#666" stroke-width="0.8"/>
<line x1="258.7" y1="351.40" x2="260.5" y2="351.40" stroke="#666" stroke-width="0.8"/>
<line x1="256.1" y1="355.60" x2="260.5" y2="355.60" stroke="#555" stroke-width="1"/>
<text x="254.7" y="357.4" font-size="9.2" text-anchor="end" fill="#1a1a1a" textLength="10.4" lengthAdjust="spacingAndGlyphs" stroke="#111" stroke-width="0.25">40</text>
<line x1="258.7" y1="359.80" x2="260.5" y2="359.80" stroke="#666" stroke-width="0.8"/>
<line x1="258.7" y1="364.00" x2="260.5" y2="364.00" stroke="#666" stroke-width="0.8"/>
<line x1="258.7" y1="368.20" x2="260.5" y2="368.20" stroke="#666" stroke-width="0.8"/>
<line x1="256.1" y1="372.40" x2="260.5" y2="372.40" stroke="#555" stroke-width="1"/>
<text x="254.7" y="374.2" font-size="9.2" text-anchor="end" fill="#1a1a1a" textLength="10.4" lengthAdjust="spacingAndGlyphs" stroke="#111" stroke-width="0.25">20</text>
<line x1="258.7" y1="376.60" x2="260.5" y2="376.60" stroke="#666" stroke-width="0.8"/>
<line x1="258.7" y1="380.80" x2="260.5" y2="380.80" stroke="#666" stroke-width="0.8"/>
<line x1="258.7" y1="385.00" x2="260.5" y2="385.00" stroke="#666" stroke-width="0.8"/>
<line x1="256.1" y1="389.20" x2="260.5" y2="389.20" stroke="#555" stroke-width="1"/>
<text x="254.7" y="391.0" font-size="9.2" text-anchor="end" fill="#1a1a1a" textLength="5.2" lengthAdjust="spacingAndGlyphs" stroke="#111" stroke-width="0.25">0</text>
<line x1="278.86" y1="389.7" x2="278.86" y2="392.70" stroke="#1c1c1c" stroke-width="1.3"/>
<line x1="288.68" y1="389.7" x2="288.68" y2="391.50" stroke="#1c1c1c" stroke-width="0.85"/>
<line x1="290.92" y1="389.7" x2="290.92" y2="391.50" stroke="#1c1c1c" stroke-width="0.85"/>
<line x1="292.51" y1="389.7" x2="292.51" y2="391.50" stroke="#1c1c1c" stroke-width="0.85"/>
<line x1="293.75" y1="389.7" x2="293.75" y2="391.50" stroke="#1c1c1c" stroke-width="0.85"/>
<line x1="294.76" y1="389.7" x2="294.76" y2="391.50" stroke="#1c1c1c" stroke-width="0.85"/>
<line x1="295.61" y1="389.7" x2="295.61" y2="391.50" stroke="#1c1c1c" stroke-width="0.85"/>
<line x1="296.35" y1="389.7" x2="296.35" y2="391.50" stroke="#1c1c1c" stroke-width="0.85"/>
<line x1="297.00" y1="389.7" x2="297.00" y2="391.50" stroke="#1c1c1c" stroke-width="0.85"/>
<line x1="297.58" y1="389.7" x2="297.58" y2="391.50" stroke="#1c1c1c" stroke-width="0.85"/>
<line x1="276.66" y1="389.7" x2="276.66" y2="391.50" stroke="#1c1c1c" stroke-width="0.85"/>
<line x1="274.96" y1="389.7" x2="274.96" y2="391.50" stroke="#1c1c1c" stroke-width="0.85"/>
<line x1="273.26" y1="389.7" x2="273.26" y2="391.50" stroke="#1c1c1c" stroke-width="0.85"/>
<line x1="271.56" y1="389.7" x2="271.56" y2="391.50" stroke="#1c1c1c" stroke-width="0.85"/>
<line x1="269.86" y1="389.7" x2="269.86" y2="391.50" stroke="#1c1c1c" stroke-width="0.85"/>
<line x1="268.16" y1="389.7" x2="268.16" y2="391.50" stroke="#1c1c1c" stroke-width="0.85"/>
<line x1="266.46" y1="389.7" x2="266.46" y2="391.50" stroke="#1c1c1c" stroke-width="0.85"/>
<line x1="264.76" y1="389.7" x2="264.76" y2="391.50" stroke="#1c1c1c" stroke-width="0.85"/>
<line x1="263.06" y1="389.7" x2="263.06" y2="391.50" stroke="#1c1c1c" stroke-width="0.85"/>
<line x1="261.36" y1="389.7" x2="261.36" y2="391.50" stroke="#1c1c1c" stroke-width="0.85"/>
<line x1="297.58" y1="389.7" x2="297.58" y2="392.70" stroke="#1c1c1c" stroke-width="1.3"/>
<line x1="310.35" y1="389.7" x2="310.35" y2="391.50" stroke="#1c1c1c" stroke-width="0.85"/>
<line x1="317.82" y1="389.7" x2="317.82" y2="391.50" stroke="#1c1c1c" stroke-width="0.85"/>
<line x1="323.12" y1="389.7" x2="323.12" y2="391.50" stroke="#1c1c1c" stroke-width="0.85"/>
<line x1="327.23" y1="389.7" x2="327.23" y2="391.50" stroke="#1c1c1c" stroke-width="0.85"/>
<line x1="330.59" y1="389.7" x2="330.59" y2="391.50" stroke="#1c1c1c" stroke-width="0.85"/>
<line x1="333.43" y1="389.7" x2="333.43" y2="391.50" stroke="#1c1c1c" stroke-width="0.85"/>
<line x1="335.89" y1="389.7" x2="335.89" y2="391.50" stroke="#1c1c1c" stroke-width="0.85"/>
<line x1="338.06" y1="389.7" x2="338.06" y2="391.50" stroke="#1c1c1c" stroke-width="0.85"/>
<line x1="340.01" y1="389.7" x2="340.01" y2="392.70" stroke="#1c1c1c" stroke-width="1.3"/>
<line x1="352.78" y1="389.7" x2="352.78" y2="391.50" stroke="#1c1c1c" stroke-width="0.85"/>
<line x1="360.25" y1="389.7" x2="360.25" y2="391.50" stroke="#1c1c1c" stroke-width="0.85"/>
<line x1="365.55" y1="389.7" x2="365.55" y2="391.50" stroke="#1c1c1c" stroke-width="0.85"/>
<line x1="369.66" y1="389.7" x2="369.66" y2="391.50" stroke="#1c1c1c" stroke-width="0.85"/>
<line x1="373.02" y1="389.7" x2="373.02" y2="391.50" stroke="#1c1c1c" stroke-width="0.85"/>
<line x1="375.86" y1="389.7" x2="375.86" y2="391.50" stroke="#1c1c1c" stroke-width="0.85"/>
<line x1="378.32" y1="389.7" x2="378.32" y2="391.50" stroke="#1c1c1c" stroke-width="0.85"/>
<line x1="380.49" y1="389.7" x2="380.49" y2="391.50" stroke="#1c1c1c" stroke-width="0.85"/>
<line x1="382.43" y1="389.7" x2="382.43" y2="392.70" stroke="#1c1c1c" stroke-width="1.3"/>
<line x1="395.20" y1="389.7" x2="395.20" y2="391.50" stroke="#1c1c1c" stroke-width="0.85"/>
<line x1="402.67" y1="389.7" x2="402.67" y2="391.50" stroke="#1c1c1c" stroke-width="0.85"/>
<line x1="407.97" y1="389.7" x2="407.97" y2="391.50" stroke="#1c1c1c" stroke-width="0.85"/>
<line x1="412.09" y1="389.7" x2="412.09" y2="391.50" stroke="#1c1c1c" stroke-width="0.85"/>
<line x1="415.45" y1="389.7" x2="415.45" y2="391.50" stroke="#1c1c1c" stroke-width="0.85"/>
<line x1="418.29" y1="389.7" x2="418.29" y2="391.50" stroke="#1c1c1c" stroke-width="0.85"/>
<line x1="420.75" y1="389.7" x2="420.75" y2="391.50" stroke="#1c1c1c" stroke-width="0.85"/>
<line x1="422.92" y1="389.7" x2="422.92" y2="391.50" stroke="#1c1c1c" stroke-width="0.85"/>
<line x1="424.86" y1="389.7" x2="424.86" y2="392.70" stroke="#1c1c1c" stroke-width="1.3"/>
<line x1="437.63" y1="389.7" x2="437.63" y2="391.50" stroke="#1c1c1c" stroke-width="0.85"/>
<line x1="261.75" y1="302.5" x2="261.75" y2="384" stroke="#eda552" stroke-width="1.9"/>
<polyline points="262,303 262.6,352 263.2,368 265,364 267,362 268.4,356 270.4,355 272.4,352 274.4,355 277,349 279,346 280.4,334 282,324 284,329 286,333 288,331 290,335 292.4,328 295,321 297,327 299,319 300.4,321 302.4,313 304,317 305.6,311 307,306.4 308.4,310 310.4,319 312.4,310 314,320 316.4,321 318.4,311.4 320.4,320 322,322 324,328 326,332 328,342 330,352 332,361 334,359 336,363 338,366 341,371 344,377 347,382 350,381 353,384.4 357,386 362,386.8 370,388" fill="none" stroke="#eda552" stroke-width="1.2" stroke-linejoin="round" stroke-linecap="round" opacity="1"/>
<polyline points="262.4,388.8 286,389 310,388.6 314,388.4 322,389 330,388 336,386.4 342,384 347,381 352,378 356,376 359,372 362,365 365,360 368,356 370,357 372,353 374,354 376,351 378,349 380,340 382,328 384,327 386,320 388,313 390,308 392,307 394,308 395.6,316 397,323 399,328 401,334 403,340 405,346 407,353 410,358 413,365 416,371 419,374 422,380 425,385 428,387.6 432,389" fill="none" stroke="#8fd548" stroke-width="1.2" stroke-linejoin="round" stroke-linecap="round" opacity="1"/>
<polyline points="346,389 358,387.6 366,386.4 370,385 374,381 377,378 379,377 382,369 385,362 387,358 389,350 391,341 393,330 395,324 397,320 399,317 401,319 403,314 404.6,307 406.4,312 408,319 410,310 412,318 413.6,327 416,324 418,325 420,316 422,322 424,328 426,348 428,358 430,362 432,369 434,374 436,377 438,382 440,389" fill="none" stroke="#d94a4a" stroke-width="1.2" stroke-linejoin="round" stroke-linecap="round" opacity="1"/>
<polyline points="342,389 352,387.6 362,386.8 368,386 372,384 376,381 379,377 381,371 383,367 385,362 386.4,344 388,336 390,330 392,322 393.6,318 395,316 396.4,320 398.4,307 400,314 402,322 404,327 406,331 408,335 410,343 412,349 414,344 416,345 418,350 420,354 422,359 424,363 426,371 428,377 431,381 434,384 437,386 440,388.6" fill="none" stroke="#3838cc" stroke-width="1.2" stroke-linejoin="round" stroke-linecap="round" opacity="1"/>
<rect x="260.5" y="301.7" width="180.0" height="88.0" fill="none" stroke="#808080" stroke-width="1" opacity="0.6"/>
<line x1="440.5" y1="301.7" x2="440.5" y2="390.2" stroke="#4a4a4a" stroke-width="1.1"/>
<text x="236.9" y="340.5" font-size="12" text-anchor="middle" fill="#111" textLength="51" lengthAdjust="spacingAndGlyphs" transform="rotate(-90 236.9 340.5)" stroke="#111" stroke-width="0.35">% of Max</text>
<line x1="258" y1="396.6" x2="443.2" y2="396.6" stroke="#111" stroke-width="1.3"/>
<polyline points="439.8,393.7 443.2,396.6 439.8,399.5" fill="none" stroke="#111" stroke-width="1.2"/>
<text x="334.8" y="408.3" font-size="12.2" fill="#111" textLength="32.6" lengthAdjust="spacingAndGlyphs" stroke="#111" stroke-width="0.25">CD54</text>
<text x="448.8" y="330" font-size="12.8" fill="#f0a030" stroke="#f0a030" stroke-width="1.0" stroke-linejoin="round" textLength="18.4" lengthAdjust="spacingAndGlyphs">Ctrl</text>
<text x="448.8" y="344.6" font-size="12.8" fill="#7cb83c" stroke="#7cb83c" stroke-width="1.0" stroke-linejoin="round" textLength="69.4" lengthAdjust="spacingAndGlyphs">No treatment</text>
<text x="448.8" y="359" font-size="12.8" fill="#ab1414" stroke="#ab1414" stroke-width="1.0" stroke-linejoin="round" textLength="20.8" lengthAdjust="spacingAndGlyphs">w/ T</text>
<text x="448.8" y="373.4" font-size="12.8" fill="#1450dc" stroke="#1450dc" stroke-width="1.0" stroke-linejoin="round"><tspan textLength="25" lengthAdjust="spacingAndGlyphs">w/ iT</tspan><tspan dy="3.1" font-size="11.4" textLength="17.6" lengthAdjust="spacingAndGlyphs">reg</tspan></text>
<line x1="59.7" y1="457.6" x2="59.7" y2="464.6" stroke="#000" stroke-width="1.6"/>
<line x1="51" y1="457.6" x2="69" y2="457.6" stroke="#000" stroke-width="1.6"/>
<rect x="42.4" y="463.6" width="34.6" height="80.60000000000002" fill="#000"/>
<line x1="107.9" y1="485.6" x2="107.9" y2="489" stroke="#000" stroke-width="1.6"/>
<line x1="99" y1="485.6" x2="116.6" y2="485.6" stroke="#000" stroke-width="1.6"/>
<rect x="91.55" y="489.15" width="32.7" height="55.05" fill="#fff" stroke="#000" stroke-width="2.3"/>
<rect x="139.55" y="505.75" width="32.3" height="38.45" fill="url(#s3)" stroke="#000" stroke-width="2.3"/>
<line x1="35.3" y1="447" x2="35.3" y2="545.4" stroke="#000" stroke-width="2.4"/>
<line x1="34.1" y1="544.2" x2="181" y2="544.2" stroke="#000" stroke-width="2.4"/>
<line x1="31.4" y1="448.00" x2="35.3" y2="448.00" stroke="#000" stroke-width="1.9"/>
<text x="30.1" y="450.9" font-size="9.2" text-anchor="end" fill="#111" textLength="11.6" lengthAdjust="spacingAndGlyphs" stroke="#111" stroke-width="0.25">2.5</text>
<line x1="31.4" y1="467.24" x2="35.3" y2="467.24" stroke="#000" stroke-width="1.9"/>
<text x="30.1" y="470.14" font-size="9.2" text-anchor="end" fill="#111" textLength="11.6" lengthAdjust="spacingAndGlyphs" stroke="#111" stroke-width="0.25">2.0</text>
<line x1="31.4" y1="486.48" x2="35.3" y2="486.48" stroke="#000" stroke-width="1.9"/>
<text x="30.1" y="489.38" font-size="9.2" text-anchor="end" fill="#111" textLength="11.6" lengthAdjust="spacingAndGlyphs" stroke="#111" stroke-width="0.25">1.5</text>
<line x1="31.4" y1="505.72" x2="35.3" y2="505.72" stroke="#000" stroke-width="1.9"/>
<text x="30.1" y="508.62" font-size="9.2" text-anchor="end" fill="#111" textLength="11.6" lengthAdjust="spacingAndGlyphs" stroke="#111" stroke-width="0.25">1.0</text>
<line x1="31.4" y1="524.96" x2="35.3" y2="524.96" stroke="#000" stroke-width="1.9"/>
<text x="30.1" y="527.86" font-size="9.2" text-anchor="end" fill="#111" textLength="11.6" lengthAdjust="spacingAndGlyphs" stroke="#111" stroke-width="0.25">0.5</text>
<line x1="31.4" y1="544.20" x2="35.3" y2="544.20" stroke="#000" stroke-width="1.9"/>
<text x="30.1" y="547.1" font-size="9.2" text-anchor="end" fill="#111" textLength="11.6" lengthAdjust="spacingAndGlyphs" stroke="#111" stroke-width="0.25">0.0</text>
<line x1="59" y1="544.2" x2="59" y2="548.4" stroke="#000" stroke-width="1.8"/>
<text x="48" y="556" font-size="9.6" fill="#111" textLength="17.6" lengthAdjust="spacingAndGlyphs" stroke="#111" stroke-width="0.25">w/ T</text>
<line x1="107.4" y1="544.2" x2="107.4" y2="548.4" stroke="#000" stroke-width="1.8"/>
<text x="89.6" y="556" font-size="9.6" fill="#111" textLength="36.0" lengthAdjust="spacingAndGlyphs" stroke="#111" stroke-width="0.25">W/ iTreg</text>
<line x1="155.4" y1="544.2" x2="155.4" y2="548.4" stroke="#000" stroke-width="1.8"/>
<text x="133" y="556" font-size="9.6" fill="#111" textLength="56" lengthAdjust="spacingAndGlyphs" stroke="#111" stroke-width="0.25">No treatment</text>
<polyline points="59.4,447 59.4,438 107.4,438 107.4,473" fill="none" stroke="#000" stroke-width="1.35"/>
<line x1="85" y1="438" x2="85" y2="433.6" stroke="#000" stroke-width="1.35"/>
<text x="62.4" y="431.6" font-size="9.8" fill="#111" textLength="41.2" lengthAdjust="spacingAndGlyphs" stroke="#111" stroke-width="0.25">p=0.0084</text>
<text x="14.8" y="496.3" font-size="10.3" text-anchor="middle" fill="#111" textLength="123.4" lengthAdjust="spacingAndGlyphs" transform="rotate(-90 14.8 496.3)" stroke="#111" stroke-width="0.25">Fold change in CD86 MFI</text>
<line x1="285.05" y1="455" x2="285.05" y2="459.6" stroke="#000" stroke-width="1.6"/>
<line x1="276" y1="455" x2="294" y2="455" stroke="#000" stroke-width="1.6"/>
<rect x="268.1" y="458.6" width="33.89999999999998" height="84.60000000000002" fill="#000"/>
<line x1="333.3" y1="475" x2="333.3" y2="478.6" stroke="#000" stroke-width="1.6"/>
<line x1="324.4" y1="475" x2="342" y2="475" stroke="#000" stroke-width="1.6"/>
<rect x="317.15" y="478.75" width="32.3" height="64.45" fill="#fff" stroke="#000" stroke-width="2.3"/>
<rect x="364.75" y="511.15" width="32.5" height="32.05" fill="url(#s4)" stroke="#000" stroke-width="2.3"/>
<line x1="261.3" y1="446" x2="261.3" y2="544.4" stroke="#000" stroke-width="2.4"/>
<line x1="260.1" y1="543.2" x2="406" y2="543.2" stroke="#000" stroke-width="2.4"/>
<line x1="257.4" y1="447.00" x2="261.3" y2="447.00" stroke="#000" stroke-width="1.9"/>
<text x="256.1" y="449.9" font-size="9.2" text-anchor="end" fill="#111" textLength="11.6" lengthAdjust="spacingAndGlyphs" stroke="#111" stroke-width="0.25">3.0</text>
<line x1="257.4" y1="463.03" x2="261.3" y2="463.03" stroke="#000" stroke-width="1.9"/>
<text x="256.1" y="465.93" font-size="9.2" text-anchor="end" fill="#111" textLength="11.6" lengthAdjust="spacingAndGlyphs" stroke="#111" stroke-width="0.25">2.5</text>
<line x1="257.4" y1="479.07" x2="261.3" y2="479.07" stroke="#000" stroke-width="1.9"/>
<text x="256.1" y="481.97" font-size="9.2" text-anchor="end" fill="#111" textLength="11.6" lengthAdjust="spacingAndGlyphs" stroke="#111" stroke-width="0.25">2.0</text>
<line x1="257.4" y1="495.10" x2="261.3" y2="495.10" stroke="#000" stroke-width="1.9"/>
<text x="256.1" y="498.0" font-size="9.2" text-anchor="end" fill="#111" textLength="11.6" lengthAdjust="spacingAndGlyphs" stroke="#111" stroke-width="0.25">1.5</text>
<line x1="257.4" y1="511.13" x2="261.3" y2="511.13" stroke="#000" stroke-width="1.9"/>
<text x="256.1" y="514.03" font-size="9.2" text-anchor="end" fill="#111" textLength="11.6" lengthAdjust="spacingAndGlyphs" stroke="#111" stroke-width="0.25">1.0</text>
<line x1="257.4" y1="527.17" x2="261.3" y2="527.17" stroke="#000" stroke-width="1.9"/>
<text x="256.1" y="530.07" font-size="9.2" text-anchor="end" fill="#111" textLength="11.6" lengthAdjust="spacingAndGlyphs" stroke="#111" stroke-width="0.25">0.5</text>
<line x1="257.4" y1="543.20" x2="261.3" y2="543.20" stroke="#000" stroke-width="1.9"/>
<text x="256.1" y="546.1" font-size="9.2" text-anchor="end" fill="#111" textLength="11.6" lengthAdjust="spacingAndGlyphs" stroke="#111" stroke-width="0.25">0.0</text>
<line x1="285" y1="543.2" x2="285" y2="547.4" stroke="#000" stroke-width="1.8"/>
<text x="273" y="555.8" font-size="9.6" fill="#111" textLength="18" lengthAdjust="spacingAndGlyphs" stroke="#111" stroke-width="0.25">w/ T</text>
<line x1="333" y1="543.2" x2="333" y2="547.4" stroke="#000" stroke-width="1.8"/>
<text x="315" y="555.8" font-size="9.6" fill="#111" textLength="35" lengthAdjust="spacingAndGlyphs" stroke="#111" stroke-width="0.25">W/ iTreg</text>
<line x1="381" y1="543.2" x2="381" y2="547.4" stroke="#000" stroke-width="1.8"/>
<text x="359.6" y="555.8" font-size="9.6" fill="#111" textLength="55.4" lengthAdjust="spacingAndGlyphs" stroke="#111" stroke-width="0.25">No treatment</text>
<polyline points="284.4,450 284.4,440 331.4,440 331.4,463.6" fill="none" stroke="#000" stroke-width="1.35"/>
<line x1="309.4" y1="440" x2="309.4" y2="435.6" stroke="#000" stroke-width="1.35"/>
<text x="287" y="432.7" font-size="9.8" fill="#111" textLength="41.6" lengthAdjust="spacingAndGlyphs" stroke="#111" stroke-width="0.25">p=0.0082</text>
<text x="240.8" y="495.2" font-size="10.3" text-anchor="middle" fill="#111" textLength="125.6" lengthAdjust="spacingAndGlyphs" transform="rotate(-90 240.8 495.2)" stroke="#111" stroke-width="0.25">FOld change in CD54 MFI</text>
</svg>
</body></html>
